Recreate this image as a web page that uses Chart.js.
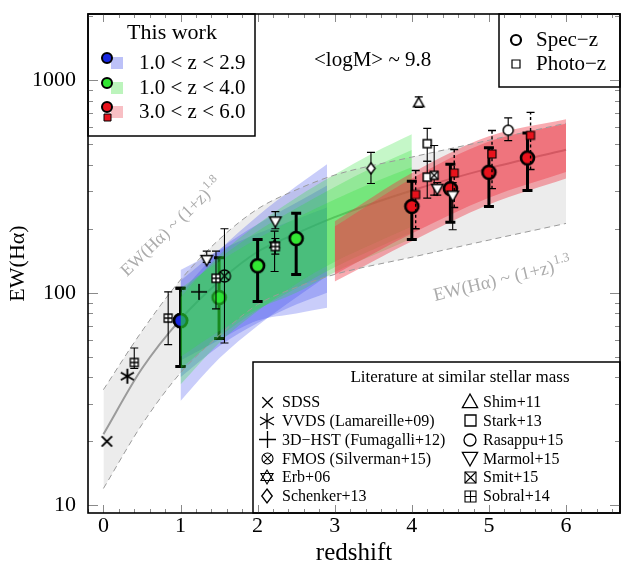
<!DOCTYPE html>
<html>
<head>
<meta charset="utf-8">
<title>EW(Hα) vs redshift</title>
<script src="https://cdn.jsdelivr.net/npm/chart.js@4.4.1/dist/chart.umd.min.js"></script>
<style>
  html, body { margin: 0; padding: 0; background: #fff; }
  canvas { display: block; }
</style>
</head>
<body>
<canvas id="ewChart" width="640" height="585"></canvas>
<script>
// ---- values ----
// grey reference band (dashed edges) and its central curve
const bandZ     = [0, 0.5, 1, 1.5, 2, 2.5, 3, 4, 5, 6];
const bandUpper = [35, 66, 115, 178, 248, 305, 358, 435, 522, 628];
const bandMid   = [21.6, 44, 75, 113, 156, 190, 227, 303, 385, 471];
const bandLower = [12, 24, 42, 63, 88, 106, 122, 147, 177, 212];

// this work: fitted ranges (several overlapping fits per redshift bin)
const blueZ    = [1, 1.5, 2, 2.5, 2.9];
const blueLoA  = [31, 49, 70, 95, 120];
const blueHiA  = [100, 158, 230, 317, 403];
const blueLoB  = [48, 60, 74, 80, 85];
const blueHiB  = [128, 158, 190, 222, 252];
const blueLoC  = [40, 56, 72, 88, 100];
const blueHiC  = [114, 160, 210, 265, 320];

const greenZ   = [1, 1.5, 2, 2.5, 3, 3.5, 4];
const greenLoA = [37, 58, 82, 110, 140, 170, 205];
const greenHiA = [95, 150, 210, 280, 360, 455, 557];
const greenLoB = [50, 66, 84, 100, 125, 150, 180];
const greenHiB = [105, 140, 180, 225, 275, 330, 390];
const greenLoC = [44, 62, 83, 105, 132, 160, 192];
const greenHiC = [100, 145, 195, 250, 315, 390, 470];

const redZ   = [3, 4, 5, 6];
const redLoA = [113, 175, 260, 345];
const redHiA = [217, 366, 545, 655];
const redLoB = [122, 190, 280, 370];
const redHiB = [205, 345, 515, 625];

// this work: measurements
const blueSpecZ = [1.0], blueSpecEW = [74], blueSpecLo = [45], blueSpecHi = [105];
const greenSpecZ  = [1.0, 1.5, 2.0, 2.5];
const greenSpecEW = [74, 95, 134, 180];
const greenSpecLo = [45, 61, 91, 122];
const greenSpecHi = [105, 146, 178, 237];
const redSpecZ  = [4.0, 4.5, 5.0, 5.5];
const redSpecEW = [255, 309, 369, 431];
const redSpecLo = [178, 215, 255, 303];
const redSpecHi = [335, 403, 481, 565];
const redPhotZ  = [4.05, 4.55, 5.04, 5.54];
const redPhotEW = [290, 366, 450, 550];
const redPhotLo = [200, 252, 309, 380];
const redPhotHi = [376, 472, 580, 706];

// literature
const sdssZ = [0.045], sdssEW = [20];
const vvdsZ = [0.31], vvdsEW = [40.5];
const hstZ = [1.24], hstEW = [101];
const fmosZ = [1.57], fmosEW = [120], fmosLo = [58], fmosHi = [200];
const erbZ = [2.22], erbEW = [168], erbLo = [126], erbHi = [195];
const schenkerZ = [3.47], schenkerEW = [385], schenkerLo = [327], schenkerHi = [458];
const shimZ = [4.09], shimEW = [782], shimLo = [745], shimHi = [835];
const starkZ = [4.2, 4.2], starkEW = [503, 350], starkLo = [416, 279], starkHi = [594, 416];
const rasappuZ = [5.25], rasappuEW = [582], rasappuLo = [520], rasappuHi = [665];
const marmolZ = [1.34, 2.23, 4.33, 4.53], marmolEW = [143, 217, 309, 287];
const marmolLo = [139, 200, 288, 198], marmolHi = [157, 241, 330, 330];
const smitZ = [4.29], smitEW = [357], smitLo = [288], smitHi = [493];
const sobralZ = [0.4, 0.84, 1.46, 2.23], sobralEW = [47, 76, 117, 165];
const sobralLo = [44, 57, 84, 152], sobralHi = [55, 101, 157, 180];

const xTicks = [0, 1, 2, 3, 4, 5, 6];
const yTicks = [10, 100, 1000];

const SERIF = "'Liberation Serif', 'Times New Roman', serif";
Chart.defaults.font.family = SERIF;
Chart.defaults.color = '#000';

// ---- marker glyphs ----
function marker(kind, size, fill, lw) {
  lw = lw || 1;
  const pad = Math.ceil(lw) + 1;
  const S = Math.round(size + 2 * pad);
  const cv = document.createElement('canvas');
  cv.width = S; cv.height = S;
  const g = cv.getContext('2d');
  const c = S / 2, h = size / 2;
  g.lineWidth = lw; g.strokeStyle = '#000'; g.fillStyle = fill || '#fff';
  const poly = ps => {
    g.beginPath();
    ps.forEach((p, i) => i ? g.lineTo(c + p[0] * h, c + p[1] * h) : g.moveTo(c + p[0] * h, c + p[1] * h));
    g.closePath();
  };
  const seg = (x1, y1, x2, y2) => { g.moveTo(c + x1 * h, c + y1 * h); g.lineTo(c + x2 * h, c + y2 * h); };
  switch (kind) {
    case 'circle':
      g.beginPath(); g.arc(c, c, h, 0, Math.PI * 2); g.fill(); g.stroke(); break;
    case 'square':
      g.beginPath(); g.rect(c - h, c - h, size, size); g.fill(); g.stroke(); break;
    case 'triUp':
      poly([[0, -1], [0.95, 0.7], [-0.95, 0.7]]); g.fill(); g.stroke(); break;
    case 'triDown':
      poly([[0, 1], [0.95, -0.7], [-0.95, -0.7]]); g.fill(); g.stroke(); break;
    case 'diamond':
      poly([[0, -1], [0.75, 0], [0, 1], [-0.75, 0]]); g.fill(); g.stroke(); break;
    case 'x':
      g.beginPath(); seg(-0.8, -0.8, 0.8, 0.8); seg(-0.8, 0.8, 0.8, -0.8); g.stroke(); break;
    case 'plus':
      g.beginPath(); seg(-1, 0, 1, 0); seg(0, -1, 0, 1); g.stroke(); break;
    case 'aster':
      g.beginPath(); seg(0, -1, 0, 1); seg(-0.87, -0.5, 0.87, 0.5); seg(-0.87, 0.5, 0.87, -0.5); g.stroke(); break;
    case 'otimes':
      g.beginPath(); g.arc(c, c, h, 0, Math.PI * 2); g.fill(); g.stroke();
      g.beginPath(); seg(-0.7, -0.7, 0.7, 0.7); seg(-0.7, 0.7, 0.7, -0.7); g.stroke(); break;
    case 'boxx':
      g.beginPath(); g.rect(c - h, c - h, size, size); g.fill(); g.stroke();
      g.beginPath(); seg(-1, -1, 1, 1); seg(-1, 1, 1, -1); g.stroke(); break;
    case 'boxplus':
      g.beginPath(); g.rect(c - h, c - h, size, size); g.fill(); g.stroke();
      g.beginPath(); seg(-1, 0, 1, 0); seg(0, -1, 0, 1); g.stroke(); break;
    case 'david':
      poly([[0, -1], [0.87, 0.5], [-0.87, 0.5]]); g.stroke();
      poly([[0, 1], [0.87, -0.5], [-0.87, -0.5]]); g.stroke(); break;
  }
  return cv;
}

const BLUE = 'rgb(25,40,225)', GREEN = 'rgb(50,230,50)', RED = 'rgb(232,18,28)';
const mk = {
  blue: marker('circle', 13, BLUE, 2.6),
  green: marker('circle', 13, GREEN, 2.6),
  red: marker('circle', 13, RED, 2.6),
  redSq: marker('square', 8, RED, 1.1),
  sdss: marker('x', 13, null, 1.9),
  vvds: marker('aster', 15, null, 1.9),
  hst: marker('plus', 16, null, 1.6),
  fmos: marker('otimes', 12, 'rgba(0,0,0,0)', 1.3),
  erb: marker('david', 11, null, 1.3),
  schenker: marker('diamond', 11, '#fff', 1.4),
  shim: marker('triUp', 11, '#fff', 1.5),
  stark: marker('square', 8, '#fff', 1.5),
  rasappu: marker('circle', 10, '#fff', 1.5),
  marmol: marker('triDown', 12, '#fff', 1.5),
  smit: marker('boxx', 8, '#fff', 1.3),
  sobral: marker('boxplus', 8, '#fff', 1.3)
};
const lg = {
  sdss: marker('x', 13, null, 1.3),
  vvds: marker('aster', 16, null, 1.3),
  hst: marker('plus', 17, null, 1.3),
  fmos: marker('otimes', 11, '#fff', 1.1),
  erb: marker('david', 14, null, 1.1),
  schenker: marker('diamond', 14, '#fff', 1.3),
  shim: marker('triUp', 16, '#fff', 1.3),
  stark: marker('square', 11, '#fff', 1.3),
  rasappu: marker('circle', 12, '#fff', 1.3),
  marmol: marker('triDown', 16, '#fff', 1.3),
  smit: marker('boxx', 11, '#fff', 1.1),
  sobral: marker('boxplus', 11, '#fff', 1.1),
  blue: marker('circle', 10, BLUE, 2),
  green: marker('circle', 10, GREEN, 2),
  red: marker('circle', 10, RED, 2),
  redSq: marker('square', 7, RED, 1),
  spec: marker('circle', 10, '#fff', 2.2),
  phot: marker('square', 8, '#fff', 1.2)
};

// ---- datasets ----
const pts = (xs, ys) => xs.map((x, i) => ({ x: x, y: ys[i] }));
const datasets = [];
function add(d) { d.order = -datasets.length; datasets.push(d); }
function band(xs, lo, hi, color) {
  add({ data: pts(xs, lo), borderWidth: 0, borderColor: 'transparent', pointRadius: 0, fill: false, cubicInterpolationMode: 'monotone' });
  add({ data: pts(xs, hi), borderWidth: 0, borderColor: 'transparent', pointRadius: 0, fill: '-1', backgroundColor: color, cubicInterpolationMode: 'monotone' });
}
function curve(xs, ys, color, width, dash) {
  add({ data: pts(xs, ys), borderColor: color, borderWidth: width, borderDash: dash || [], pointRadius: 0, fill: false, cubicInterpolationMode: 'monotone' });
}
function points(xs, ys, style, lo, hi, err) {
  add({ data: pts(xs, ys), showLine: false, pointStyle: style, pointRadius: 6, errLo: lo, errHi: hi, err: err });
}
const thickErr = { width: 3, cap: 5 };
const dashErr = { width: 1.4, cap: 4, dash: [3, 2.5] };
const thinErr = { width: 1.1, cap: 4 };

band(bandZ, bandLower, bandUpper, 'rgba(0,0,0,0.075)');
curve(bandZ, bandMid, 'rgba(140,140,140,0.85)', 2);
band(blueZ, blueLoA, blueHiA, 'rgba(55,70,235,0.27)');
band(blueZ, blueLoB, blueHiB, 'rgba(55,70,235,0.27)');
band(blueZ, blueLoC, blueHiC, 'rgba(55,70,235,0.27)');
points(greenSpecZ.slice(0, 2), greenSpecEW.slice(0, 2), mk.green, greenSpecLo.slice(0, 2), greenSpecHi.slice(0, 2), thickErr);
points(blueSpecZ, blueSpecEW, mk.blue, blueSpecLo, blueSpecHi, thickErr);
band(greenZ, greenLoA, greenHiA, 'rgba(40,225,50,0.27)');
band(greenZ, greenLoB, greenHiB, 'rgba(40,225,50,0.27)');
band(greenZ, greenLoC, greenHiC, 'rgba(40,225,50,0.27)');
band(redZ, redLoA, redHiA, 'rgba(240,55,70,0.42)');
band(redZ, redLoB, redHiB, 'rgba(240,55,70,0.42)');
curve(bandZ, bandUpper, '#9a9a9a', 1, [6, 4]);
curve(bandZ, bandLower, '#9a9a9a', 1, [6, 4]);
points(greenSpecZ.slice(2), greenSpecEW.slice(2), mk.green, greenSpecLo.slice(2), greenSpecHi.slice(2), thickErr);
points(redSpecZ, redSpecEW, mk.red, redSpecLo, redSpecHi, thickErr);
points(redPhotZ, redPhotEW, mk.redSq, redPhotLo, redPhotHi, dashErr);
points(sdssZ, sdssEW, mk.sdss);
points(vvdsZ, vvdsEW, mk.vvds);
points(hstZ, hstEW, mk.hst);
points(fmosZ, fmosEW, mk.fmos, fmosLo, fmosHi, thinErr);
points(erbZ, erbEW, mk.erb, erbLo, erbHi, thinErr);
points(sobralZ, sobralEW, mk.sobral, sobralLo, sobralHi, thinErr);
points(schenkerZ, schenkerEW, mk.schenker, schenkerLo, schenkerHi, thinErr);
points(shimZ, shimEW, mk.shim, shimLo, shimHi, thinErr);
points(starkZ, starkEW, mk.stark, starkLo, starkHi, thinErr);
points(smitZ, smitEW, mk.smit, smitLo, smitHi, thinErr);
points(marmolZ, marmolEW, mk.marmol, marmolLo, marmolHi, thinErr);
points(rasappuZ, rasappuEW, mk.rasappu, rasappuLo, rasappuHi, thinErr);

// ---- plugins ----
const errorBars = {
  id: 'errorBars',
  beforeDatasetDraw(chart, args) {
    const d = chart.data.datasets[args.index];
    if (!d.errLo) return;
    const g = chart.ctx, xs = chart.scales.x, ys = chart.scales.y, e = d.err;
    g.save();
    g.strokeStyle = '#000';
    g.lineWidth = e.width;
    d.data.forEach((p, i) => {
      const x = xs.getPixelForValue(p.x);
      const y0 = ys.getPixelForValue(d.errLo[i]);
      const y1 = ys.getPixelForValue(d.errHi[i]);
      g.setLineDash(e.dash || []);
      g.beginPath(); g.moveTo(x, y0); g.lineTo(x, y1); g.stroke();
      g.setLineDash([]);
      g.beginPath();
      g.moveTo(x - e.cap, y0); g.lineTo(x + e.cap, y0);
      g.moveTo(x - e.cap, y1); g.lineTo(x + e.cap, y1);
      g.stroke();
    });
    g.restore();
  }
};

function supText(g, main, sup, size) {
  g.font = size + 'px ' + SERIF;
  g.fillText(main, 0, 0);
  const w = g.measureText(main).width;
  g.font = Math.round(size * 0.68) + 'px ' + SERIF;
  g.fillText(sup, w + 1, -size * 0.42);
}

const annotations = {
  id: 'annotations',
  afterDatasetsDraw(chart) {
    const g = chart.ctx;
    g.save();
    g.fillStyle = '#ababab';
    g.textBaseline = 'alphabetic';
    g.save(); g.translate(127, 277); g.rotate(-44 * Math.PI / 180);
    supText(g, 'EW(Hα) ~ (1+z)', '1.8', 17.5); g.restore();
    g.save(); g.translate(435, 301); g.rotate(-13.5 * Math.PI / 180);
    supText(g, 'EW(Hα) ~ (1+z)', '1.3', 18.5); g.restore();
    g.fillStyle = '#000';
    g.font = '21px ' + SERIF;
    g.textBaseline = 'middle';
    g.fillText('<logM> ~ 9.8', 314, 60);
    g.restore();
  }
};

function box(g, x0, y0, x1, y1) {
  g.fillStyle = '#fff';
  g.fillRect(x0, y0, x1 - x0, y1 - y0);
  g.strokeStyle = '#000';
  g.lineWidth = 1.5;
  g.strokeRect(x0, y0, x1 - x0, y1 - y0);
}
function img(g, cv, x, y) { g.drawImage(cv, Math.round(x - cv.width / 2), Math.round(y - cv.height / 2)); }

const legends = {
  id: 'legends',
  afterDraw(chart) {
    const g = chart.ctx;
    g.save();
    // this work
    box(g, 88, 14, 255, 136);
    g.fillStyle = '#000'; g.textBaseline = 'middle';
    g.font = '22px ' + SERIF; g.textAlign = 'center';
    g.fillText('This work', 172, 33);
    g.textAlign = 'left'; g.font = '21px ' + SERIF;
    [['rgba(165,172,245,0.75)', lg.blue, '1.0 < z < 2.9', 63],
     ['rgba(165,240,165,0.75)', lg.green, '1.0 < z < 4.0', 88],
     ['rgba(245,170,176,0.75)', lg.red, '3.0 < z < 6.0', 112]].forEach(r => {
      g.fillStyle = r[0]; g.fillRect(111, r[3] - 6, 12, 12);
      img(g, r[1], 107, r[3] - 5);
      g.fillStyle = '#000'; g.fillText(r[2], 139, r[3]);
    });
    img(g, lg.redSq, 107, 117);
    // spec / photo
    box(g, 499, 14, 620, 87);
    img(g, lg.spec, 516, 40);
    img(g, lg.phot, 516, 64);
    g.fillStyle = '#000'; g.font = '21px ' + SERIF;
    g.fillText('Spec\u2212z', 536, 40);
    g.fillText('Photo\u2212z', 536, 64);
    // literature
    box(g, 253, 362, 620, 513);
    g.fillStyle = '#000';
    g.font = '17px ' + SERIF; g.textAlign = 'center';
    g.fillText('Literature at similar stellar mass', 460, 378);
    g.textAlign = 'left'; g.font = '16px ' + SERIF;
    const left = [[lg.sdss, 'SDSS'], [lg.vvds, 'VVDS (Lamareille+09)'], [lg.hst, '3D\u2212HST (Fumagalli+12)'],
                  [lg.fmos, 'FMOS (Silverman+15)'], [lg.erb, 'Erb+06'], [lg.schenker, 'Schenker+13']];
    const right = [[lg.shim, 'Shim+11'], [lg.stark, 'Stark+13'], [lg.rasappu, 'Rasappu+15'],
                   [lg.marmol, 'Marmol+15'], [lg.smit, 'Smit+15'], [lg.sobral, 'Sobral+14']];
    left.forEach((r, i) => { const y = 402 + i * 18.8; img(g, r[0], 267, y); g.fillText(r[1], 282, y + 1); });
    right.forEach((r, i) => { const y = 402 + i * 18.8; img(g, r[0], 470, y); g.fillText(r[1], 483, y + 1); });
    g.restore();
    drawFrame(chart);
  }
};

function drawFrame(chart) {
  const g = chart.ctx, a = chart.chartArea, xs = chart.scales.x, ys = chart.scales.y;
  g.save();
  g.strokeStyle = '#8a8a8a'; g.lineWidth = 1;
  g.beginPath();
  for (let k = -1; k <= 33; k++) {
    const v = k / 5;
    if (v < xs.min || v > xs.max) continue;
    const x = Math.round(xs.getPixelForValue(v)) + 0.5;
    const len = k % 5 === 0 ? 8 : 4;
    g.moveTo(x, a.bottom); g.lineTo(x, a.bottom - len);
    g.moveTo(x, a.top); g.lineTo(x, a.top + len);
  }
  [10, 100, 1000].forEach(dec => {
    for (let m = 1; m <= 9; m++) {
      const v = dec * m;
      if (v < ys.min || v > ys.max) continue;
      const y = Math.round(ys.getPixelForValue(v)) + 0.5;
      const len = m === 1 ? 10 : 5;
      g.moveTo(a.left, y); g.lineTo(a.left + len, y);
      g.moveTo(a.right, y); g.lineTo(a.right - len, y);
    }
  });
  g.stroke();
  g.strokeStyle = '#000'; g.lineWidth = 1.6;
  g.strokeRect(a.left, a.top, a.right - a.left, a.bottom - a.top);
  g.restore();
}

new Chart(document.getElementById('ewChart'), {
  type: 'line',
  data: { datasets: datasets },
  options: {
    responsive: false,
    animation: false,
    events: [],
    layout: { padding: { top: 14, right: 20, left: 0, bottom: 0 } },
    plugins: { legend: { display: false }, tooltip: { enabled: false } },
    scales: {
      x: {
        type: 'linear', min: -0.2, max: 6.7,
        grid: { display: false, drawTicks: false },
        border: { display: false },
        afterBuildTicks: s => { s.ticks = xTicks.map(v => ({ value: v })); },
        afterFit: s => { s.height = 72; },
        ticks: { font: { size: 22, lineHeight: 1 }, padding: 2, maxRotation: 0, autoSkip: false, callback: v => String(v) },
        title: { display: true, text: 'redshift', font: { size: 25, lineHeight: 1.2 }, padding: { top: 0, bottom: 17 } }
      },
      y: {
        type: 'logarithmic', min: 9.2, max: 2050,
        grid: { display: false, drawTicks: false },
        border: { display: false },
        afterBuildTicks: s => { s.ticks = yTicks.map(v => ({ value: v })); },
        afterFit: s => { s.width = 88; },
        ticks: { font: { size: 22, lineHeight: 0.1 }, padding: 12, autoSkip: false, callback: v => String(v) },
        title: { display: true, text: 'EW(Hα)', font: { size: 22, lineHeight: 1.2 }, padding: { top: 5, bottom: 0 } }
      }
    }
  },
  plugins: [errorBars, annotations, legends]
});
</script>
</body>
</html>
